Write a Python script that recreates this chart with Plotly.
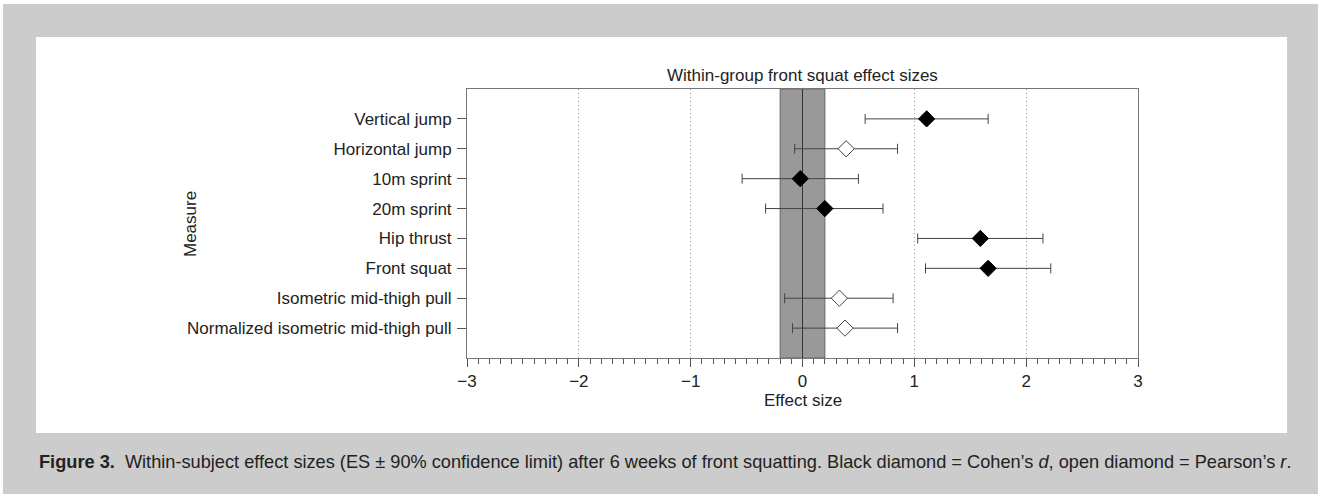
import plotly.graph_objects as go

# ---- data ----
measures = ["Vertical jump", "Horizontal jump", "10m sprint", "20m sprint",
            "Hip thrust", "Front squat", "Isometric mid-thigh pull",
            "Normalized isometric mid-thigh pull"]
effect = [1.11, 0.39, -0.02, 0.20, 1.59, 1.66, 0.33, 0.38]
ci_low = [0.56, -0.07, -0.54, -0.33, 1.03, 1.10, -0.16, -0.09]
ci_high = [1.66, 0.85, 0.50, 0.72, 2.15, 2.22, 0.81, 0.85]
filled = [True, False, True, True, True, True, False, False]  # True = Cohen's d, False = Pearson's r
trivial_band = [-0.2, 0.2]
x_ticks = [-3, -2, -1, 0, 1, 2, 3]

# ---- geometry ----
W, H = 1318, 494
L, R, T, B = 467, 1138, 89, 358  # plot area pixel edges


def px(x):
    return (x - L) / (R - L)


def py(y):
    return (B - y) / (B - T)


n = len(measures)
ypos = [n - i for i in range(n)]

fig = go.Figure()

# zero line
fig.add_trace(go.Scatter(x=[0, 0], y=[0, n + 1], mode="lines",
                         line=dict(color="#333333", width=1),
                         hoverinfo="skip", showlegend=False))

for filled_flag in (True, False):
    idx = [i for i in range(n) if filled[i] == filled_flag]
    xs = [effect[i] for i in idx]
    ys = [ypos[i] for i in idx]
    plus = [ci_high[i] - effect[i] for i in idx]
    minus = [effect[i] - ci_low[i] for i in idx]
    fig.add_trace(go.Scatter(
        x=xs, y=ys, mode="markers",
        marker=dict(symbol="diamond", size=12.5,
                    color="black" if filled_flag else "white",
                    line=dict(color="black" if filled_flag else "#444444", width=1)),
        error_x=dict(type="data", symmetric=False, array=plus, arrayminus=minus,
                     color="#444444", thickness=1, width=5),
        showlegend=False))

shapes = [
    dict(type="rect", xref="paper", yref="paper", x0=px(3), x1=px(W + 5), y0=py(4), y1=py(H + 5),
         fillcolor="#cccccc", line=dict(width=0), layer="below"),
    dict(type="rect", xref="paper", yref="paper", x0=px(36), x1=px(1287), y0=py(37), y1=py(433),
         fillcolor="white", line=dict(width=0), layer="below"),
    dict(type="rect", xref="x", yref="paper", x0=trivial_band[0], x1=trivial_band[1], y0=0, y1=1,
         fillcolor="#999999", line=dict(color="#666666", width=1), layer="below"),
]

annotations = [
    dict(text="Within-group front squat effect sizes", x=0.5, y=py(75), xref="paper", yref="paper",
         showarrow=False, xanchor="center", yanchor="middle",
         font=dict(size=17, color="#222222")),
    dict(text="Measure", x=px(190), y=py(224), xref="paper", yref="paper", textangle=-90,
         showarrow=False, xanchor="center", yanchor="middle",
         font=dict(size=17, color="#222222")),
    dict(text="Effect size", x=0.5, y=py(400), xref="paper", yref="paper",
         showarrow=False, xanchor="center", yanchor="middle",
         font=dict(size=17, color="#222222")),
    dict(text="<b>Figure 3.</b>  Within-subject effect sizes (ES \u00b1 90% confidence limit) after 6 weeks of "
              "front squatting. Black diamond = Cohen\u2019s <i>d</i>, open diamond = Pearson\u2019s <i>r</i>.",
         x=px(37), y=py(462), xref="paper", yref="paper",
         showarrow=False, xanchor="left", yanchor="middle",
         font=dict(size=18.2, color="#222222")),
]

fig.update_layout(
    width=W, height=H,
    margin=dict(l=L, r=W - R, t=T, b=H - B, pad=0),
    paper_bgcolor="white", plot_bgcolor="white",
    font=dict(family="Liberation Sans, Arial, sans-serif", size=17, color="#222222"),
    shapes=shapes, annotations=annotations,
    xaxis=dict(range=[-3, 3], tickvals=x_ticks, ticks="outside", ticklen=8, tickcolor="#555555",
               showline=True, mirror=True, linecolor="#777777", linewidth=1,
               showgrid=True, gridcolor="#999999", griddash="1px,3px", gridwidth=1,
               zeroline=False, tickfont=dict(size=17),
               minor=dict(dtick=0.1, ticks="outside", ticklen=5, tickcolor="#555555", showgrid=False)),
    yaxis=dict(range=[0, n + 1], tickvals=ypos, ticktext=measures, ticks="outside", ticklen=9,
               tickcolor="#555555", showline=True, mirror=True, linecolor="#777777", linewidth=1,
               showgrid=False, zeroline=False, tickfont=dict(size=17), ticklabelstandoff=2),
)

fig.write_html("out.html", config={"displayModeBar": False},
               post_script="document.body.style.margin='0';document.body.style.overflow='hidden';")
